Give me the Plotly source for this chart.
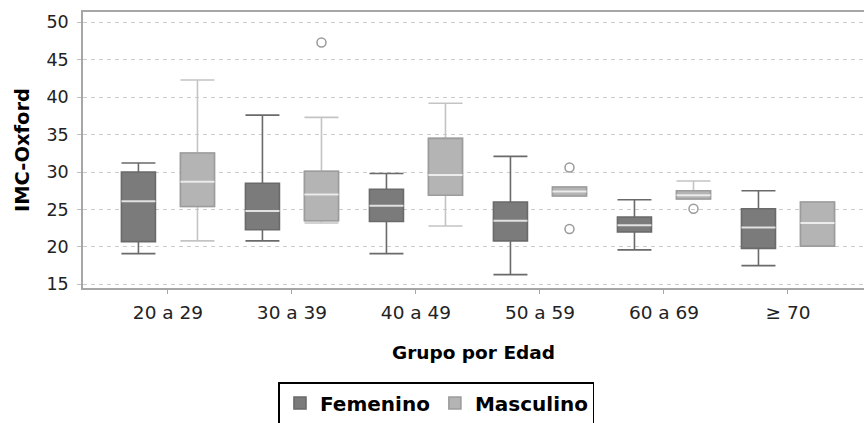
import plotly.graph_objects as go

categories = ["20 a 29", "30 a 39", "40 a 49", "50 a 59", "60 a 69", "≥ 70"]

fem_lower = [19.1, 20.8, 19.1, 16.3, 19.6, 17.5]
fem_q1 = [20.7, 22.3, 23.4, 20.8, 22.0, 19.8]
fem_median = [26.1, 24.8, 25.5, 23.5, 22.9, 22.6]
fem_q3 = [30.0, 28.5, 27.7, 26.0, 24.0, 25.1]
fem_upper = [31.2, 37.6, 29.8, 32.1, 26.3, 27.5]

mas_lower = [20.8, 23.2, 22.8, 26.8, 26.4, 20.1]
mas_q1 = [25.4, 23.5, 26.9, 26.8, 26.4, 20.1]
mas_median = [28.7, 27.0, 29.6, 27.4, 26.9, 23.2]
mas_q3 = [32.55, 30.1, 34.5, 28.0, 27.5, 26.0]
mas_upper = [42.3, 37.3, 39.2, 28.0, 28.8, 26.0]

mas_out_cats = ["30 a 39", "50 a 59", "50 a 59", "60 a 69"]
mas_out_vals = [47.3, 30.6, 22.4, 25.1]

y_ticks = [15, 20, 25, 30, 35, 40, 45, 50]

FONT = "DejaVu Sans"
fig = go.Figure()

# Femenino
fig.add_trace(go.Box(
    name="Femenino", x=categories, q1=fem_q1, median=fem_median, q3=fem_q3,
    lowerfence=fem_lower, upperfence=fem_upper, offsetgroup="F",
    fillcolor="#7b7b7b", line=dict(color="#6a6a6a", width=1.6),
    whiskerwidth=1, boxpoints=False, hoverinfo="skip"))
fig.add_trace(go.Box(
    name="Femenino", x=categories, q1=fem_median, median=fem_median, q3=fem_median,
    lowerfence=fem_median, upperfence=fem_median, offsetgroup="F",
    fillcolor="rgba(0,0,0,0)", line=dict(color="#e2e2e2", width=2),
    whiskerwidth=0, boxpoints=False, showlegend=False, hoverinfo="skip"))

# Masculino
fig.add_trace(go.Box(
    name="Masculino", x=categories, q1=mas_q1, median=mas_median, q3=mas_q3,
    lowerfence=mas_lower, upperfence=mas_upper, offsetgroup="M",
    fillcolor="rgba(0,0,0,0)", line=dict(color="#c4c4c4", width=1.6),
    whiskerwidth=1, boxpoints=False, showlegend=False, hoverinfo="skip"))
fig.add_trace(go.Box(
    name="Masculino", x=categories, q1=mas_q1, median=mas_median, q3=mas_q3,
    lowerfence=mas_q1, upperfence=mas_q3, offsetgroup="M",
    fillcolor="#b4b4b4", line=dict(color="#9c9c9c", width=1.6),
    whiskerwidth=0, boxpoints=False, hoverinfo="skip"))
fig.add_trace(go.Box(
    name="Masculino", x=categories, q1=mas_median, median=mas_median, q3=mas_median,
    lowerfence=mas_median, upperfence=mas_median, offsetgroup="M",
    fillcolor="rgba(0,0,0,0)", line=dict(color="#ececec", width=2),
    whiskerwidth=0, boxpoints=False, showlegend=False, hoverinfo="skip"))
fig.add_trace(go.Box(
    name="Masculino", x=mas_out_cats, y=mas_out_vals, offsetgroup="M",
    fillcolor="rgba(0,0,0,0)", line=dict(color="rgba(0,0,0,0)", width=0),
    boxpoints="all", jitter=0, pointpos=0,
    marker=dict(symbol="circle-open", size=9, color="#9a9a9a", line=dict(width=1.5)),
    showlegend=False, hoverinfo="skip"))

fig.update_layout(
    width=864, height=423,
    margin=dict(l=83, r=0, t=12, b=135, autoexpand=False),
    paper_bgcolor="white", plot_bgcolor="white",
    boxmode="group", boxgap=0.048, boxgroupgap=0.424,
    font=dict(family=FONT, color="#222222"),
    showlegend=True,
    legend=dict(
        orientation="h", x=0.4526, xanchor="center", y=-0.3406, yanchor="top",
        bordercolor="#000000", borderwidth=1.5, bgcolor="white",
        font=dict(family=FONT, size=20, color="#000000", weight="bold"),
        itemwidth=30, tracegroupgap=0,
    ),
    xaxis=dict(
        type="category", range=[-0.685, 5.613], automargin=False,
        showline=True, linecolor="#a6a6a6", linewidth=1.5, mirror=True,
        ticks="outside", ticklen=4, tickcolor="#a6a6a6",
        showgrid=False, zeroline=False,
        tickfont=dict(family=FONT, size=18.5, color="#222222"),
        ticklabelstandoff=3,
        title=dict(text="Grupo por Edad", standoff=24,
                   font=dict(family=FONT, size=18.5, color="#000000", weight="bold")),
    ),
    yaxis=dict(
        range=[14.51, 51.38], tickvals=y_ticks, automargin=False,
        showline=True, linecolor="#a6a6a6", linewidth=1.5, mirror=False,
        ticks="outside", ticklen=4, tickcolor="#c0c0c0",
        showgrid=True, gridcolor="#cccccc", gridwidth=1, griddash="4px,4px",
        zeroline=False,
        tickfont=dict(family=FONT, size=17.5, color="#222222"),
        ticklabelstandoff=5,
        title=dict(text="IMC-Oxford", standoff=12,
                   font=dict(family=FONT, size=19.5, color="#000000", weight="bold")),
    ),
)

fig.write_html(
    "out.html",
    config={"displayModeBar": False},
    post_script="document.body.style.margin='0px';document.body.style.overflow='hidden';",
)
